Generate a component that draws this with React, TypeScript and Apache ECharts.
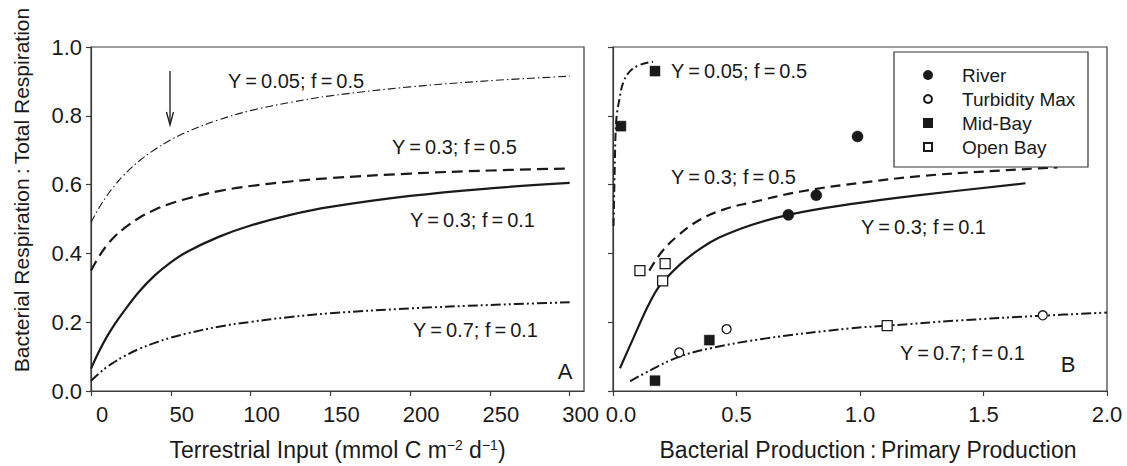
import React, { useEffect, useRef } from 'react';
import * as echarts from 'echarts';

const FONT = '"Liberation Sans", Arial, Helvetica, sans-serif';
const INK = '#1a1a1a';
const AX = '#3c3c3c';
const TS = '\u2009';
const SQUARE = 'path://M0,0L10,0L10,10L0,10Z';

// ---------- Panel A: model curves vs terrestrial input ----------
const inputX = [0, 5, 10, 15, 20, 30, 40, 50, 60, 80, 100, 125, 150, 200, 250, 300];
const aY005f05 = [0.49, 0.532, 0.568, 0.598, 0.625, 0.668, 0.702, 0.73, 0.753, 0.788, 0.815, 0.839, 0.858, 0.884, 0.902, 0.915];
const aY03f05 = [0.35, 0.391, 0.424, 0.45, 0.47, 0.503, 0.527, 0.545, 0.559, 0.581, 0.596, 0.609, 0.619, 0.632, 0.641, 0.647];
const aY03f01 = [0.065, 0.115, 0.158, 0.195, 0.228, 0.288, 0.336, 0.374, 0.404, 0.448, 0.481, 0.512, 0.535, 0.567, 0.589, 0.605];
const aY07f01 = [0.03, 0.051, 0.07, 0.085, 0.099, 0.122, 0.14, 0.155, 0.167, 0.187, 0.201, 0.215, 0.226, 0.24, 0.25, 0.258];
const aXTicks = [0, 50, 100, 150, 200, 250, 300];

// ---------- Panel B: model curves vs BP:PP ----------
const bY005f05 = [[0.002, 0.48], [0.005, 0.58], [0.008, 0.68], [0.01, 0.74], [0.015, 0.8], [0.026, 0.848], [0.041, 0.896], [0.069, 0.93], [0.109, 0.948], [0.162, 0.957]];
const bY03f05 = [[0.147, 0.35], [0.197, 0.404], [0.26, 0.45], [0.35, 0.497], [0.45, 0.528], [0.56, 0.548], [0.76, 0.58], [1.0, 0.605], [1.25, 0.625], [1.5, 0.638], [1.8, 0.65]];
const bY03f01 = [[0.028, 0.066], [0.082, 0.153], [0.15, 0.259], [0.204, 0.319], [0.352, 0.413], [0.514, 0.471], [0.71, 0.512], [0.96, 0.543], [1.25, 0.57], [1.67, 0.604]];
const bY07f01 = [[0.069, 0.028], [0.15, 0.06], [0.27, 0.1], [0.4, 0.125], [0.62, 0.153], [0.96, 0.182], [1.11, 0.19], [1.4, 0.205], [1.74, 0.219], [2.0, 0.228]];

// ---------- Panel B: observations ----------
const river = [[0.71, 0.512], [0.823, 0.569], [0.99, 0.74]];
const turbidityMax = [[0.268, 0.112], [0.46, 0.18], [1.74, 0.22]];
const midBay = [[0.032, 0.77], [0.17, 0.93], [0.39, 0.148], [0.17, 0.03]];
const openBay = [[0.109, 0.35], [0.211, 0.37], [0.201, 0.32], [1.11, 0.19]];

const legendNames = ['River', 'Turbidity Max', 'Mid-Bay', 'Open Bay'];
const legendIcons = ['circle', 'circle', SQUARE, SQUARE];
const curveLabels = [
  `Y${TS}=${TS}0.05; f${TS}=${TS}0.5`,
  `Y${TS}=${TS}0.3; f${TS}=${TS}0.5`,
  `Y${TS}=${TS}0.3; f${TS}=${TS}0.1`,
  `Y${TS}=${TS}0.7; f${TS}=${TS}0.1`,
];

const pairs = (xs: number[], ys: number[]) => xs.map((x, i) => [x, ys[i]]);

const lineSeries = (name: string, data: number[][], idx: number, type: any, width: number) => ({
  type: 'line',
  name,
  xAxisIndex: idx,
  yAxisIndex: idx,
  data,
  smooth: 0.4,
  symbol: 'none',
  showSymbol: false,
  silent: true,
  lineStyle: { color: INK, width, type },
  z: 2,
});

const scatterSeries = (name: string, data: number[][], symbol: string, size: number, filled: boolean) => ({
  type: 'scatter',
  name,
  xAxisIndex: 1,
  yAxisIndex: 1,
  data,
  symbol,
  symbolSize: size,
  itemStyle: filled
    ? { color: INK, borderColor: INK, borderWidth: 0.5, opacity: 1 }
    : { color: '#ffffff', borderColor: INK, borderWidth: 1.3, opacity: 1 },
  z: 5,
});

const text = (t: string, x: number, y: number, size = 20, align = 'left') => ({
  type: 'text',
  x,
  y,
  silent: true,
  z: 20,
  style: { text: t, fill: INK, fontSize: size, fontFamily: FONT, align, verticalAlign: 'middle' },
});

const baseAxisLine = { show: true, onZero: false, lineStyle: { color: AX, width: 1.2 } };
const baseTick = { show: true, inside: false, length: 5, lineStyle: { color: AX, width: 1.2 } };
const labelFont = { fontSize: 22, fontFamily: FONT, color: INK };

const option: any = {
  animation: false,
  backgroundColor: '#ffffff',
  grid: [
    { left: 91, top: 47, width: 493, height: 346, show: true, borderColor: AX, borderWidth: 1.2, backgroundColor: 'transparent' },
    { left: 613, top: 47, width: 494, height: 346, show: true, borderColor: AX, borderWidth: 1.2, backgroundColor: 'transparent' },
  ],
  xAxis: [
    {
      gridIndex: 0,
      type: 'value',
      min: 0,
      max: 309,
      axisLine: baseAxisLine,
      axisTick: { ...baseTick, customValues: aXTicks },
      axisLabel: { ...labelFont, customValues: aXTicks, margin: 12, padding: [0, 0, 0, 22] },
      splitLine: { show: false },
      name: 'Terrestrial Input (mmol C m{sup|\u22122} d{sup|\u22121})',
      nameLocation: 'middle',
      nameGap: 47,
      nameTextStyle: {
        fontSize: 23,
        fontFamily: FONT,
        color: INK,
        rich: { sup: { fontSize: 14, fontFamily: FONT, color: INK, verticalAlign: 'top' } },
      },
    },
    {
      gridIndex: 1,
      type: 'value',
      min: 0,
      max: 2,
      interval: 0.5,
      axisLine: baseAxisLine,
      axisTick: baseTick,
      axisLabel: {
        ...labelFont,
        margin: 12,
        formatter: (v: number) => (v === 0 ? '{z|0.0}' : v.toFixed(1)),
        rich: { z: { fontSize: 22, fontFamily: FONT, color: INK, padding: [0, 0, 0, 16] } },
      },
      splitLine: { show: false },
      name: `Bacterial Production${TS}:${TS}Primary Production`,
      nameLocation: 'middle',
      nameGap: 47,
      nameTextStyle: { fontSize: 23, fontFamily: FONT, color: INK, padding: [0, 0, 0, 16] },
    },
  ],
  yAxis: [
    {
      gridIndex: 0,
      type: 'value',
      min: 0,
      max: 1,
      interval: 0.2,
      axisLine: baseAxisLine,
      axisTick: baseTick,
      axisLabel: { ...labelFont, margin: 9, formatter: (v: number) => v.toFixed(1) },
      splitLine: { show: false },
    },
    {
      gridIndex: 1,
      type: 'value',
      min: 0,
      max: 1,
      interval: 0.2,
      axisLine: baseAxisLine,
      axisTick: baseTick,
      axisLabel: { show: false },
      splitLine: { show: false },
    },
  ],
  legend: {
    data: legendNames.map((name, i) => ({ name, icon: legendIcons[i] })),
    orient: 'vertical',
    left: 918,
    top: 52,
    padding: [13, 12, 11, 5],
    itemWidth: 58,
    itemHeight: 8,
    itemGap: 4,
    symbolKeepAspect: true,
    selectedMode: false,
    textStyle: { fontSize: 19, fontFamily: FONT, color: INK, lineHeight: 20 },
    z: 10,
  },
  graphic: [
    // legend frame
    {
      type: 'rect',
      z: 8,
      silent: true,
      shape: { x: 894, y: 52, width: 194, height: 115 },
      style: { fill: '#ffffff', stroke: '#333333', lineWidth: 1.2 },
    },
    {
      type: 'text',
      x: 21,
      y: 190,
      rotation: Math.PI / 2,
      silent: true,
      style: {
        text: `Bacterial Respiration${TS}:${TS}Total Respiration`,
        fill: INK,
        fontSize: 21,
        fontFamily: FONT,
        align: 'center',
        verticalAlign: 'middle',
      },
    },
    // Panel A labels
    text(curveLabels[0], 228, 81),
    text(curveLabels[1], 392, 147),
    text(curveLabels[2], 410, 220),
    text(curveLabels[3], 413, 330),
    text('A', 565, 371, 22, 'center'),
    // arrow
    { type: 'line', silent: true, shape: { x1: 170, y1: 71, x2: 170, y2: 124 }, style: { stroke: INK, lineWidth: 1.3 } },
    { type: 'polyline', silent: true, shape: { points: [[166.5, 112], [170, 125], [173.5, 112]] }, style: { stroke: INK, lineWidth: 1.3, fill: 'none' } },
    // Panel B labels
    text(curveLabels[0], 671, 71),
    text(curveLabels[1], 671, 177),
    text(curveLabels[2], 861, 227),
    text(curveLabels[3], 900, 353),
    text('B', 1068, 364, 22, 'center'),
  ],
  series: [
    lineSeries('A Y=0.05 f=0.5', pairs(inputX, aY005f05), 0, [8, 3, 1.5, 3], 1.1),
    lineSeries('A Y=0.3 f=0.5', pairs(inputX, aY03f05), 0, [11, 6], 2.2),
    lineSeries('A Y=0.3 f=0.1', pairs(inputX, aY03f01), 0, 'solid', 2.2),
    lineSeries('A Y=0.7 f=0.1', pairs(inputX, aY07f01), 0, [10, 3, 2, 3, 2, 3], 2),
    lineSeries('B Y=0.05 f=0.5', bY005f05, 1, [8, 3.5, 2, 3.5], 2),
    lineSeries('B Y=0.3 f=0.5', bY03f05, 1, [10, 6], 2.2),
    lineSeries('B Y=0.3 f=0.1', bY03f01, 1, 'solid', 2.2),
    lineSeries('B Y=0.7 f=0.1', bY07f01, 1, [10, 3, 2, 3, 2, 3], 2),
    scatterSeries('River', river, 'circle', 11, true),
    scatterSeries('Turbidity Max', turbidityMax, 'circle', 9, false),
    scatterSeries('Mid-Bay', midBay, 'rect', 10, true),
    scatterSeries('Open Bay', openBay, 'rect', 10, false),
  ],
};

export default function App() {
  const ref = useRef<HTMLDivElement>(null);
  useEffect(() => {
    const el = ref.current;
    if (!el) return;
    const chart = echarts.init(el, undefined, { renderer: 'svg' });
    chart.setOption(option);
    return () => chart.dispose();
  }, []);
  return (
    <div
      ref={ref}
      style={{ position: 'fixed', left: 0, top: 0, width: 1127, height: 466, background: '#ffffff' }}
    />
  );
}
